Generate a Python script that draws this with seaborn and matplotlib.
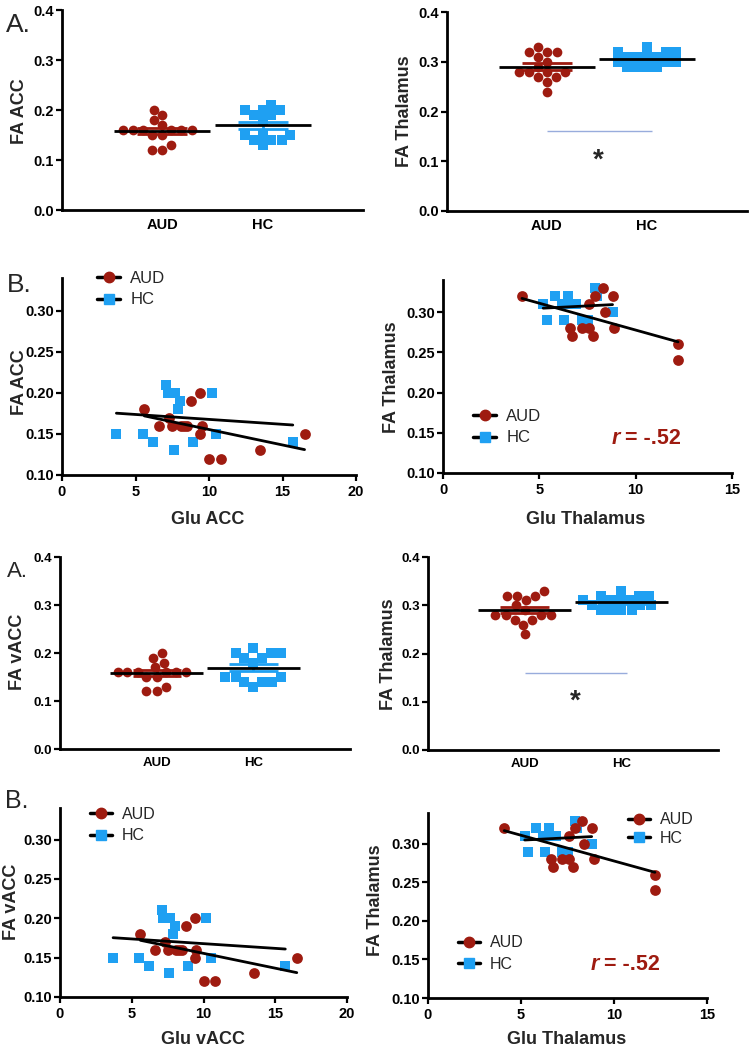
import numpy as np
import pandas as pd
import matplotlib
matplotlib.use("Agg")
import matplotlib.pyplot as plt
from matplotlib.lines import Line2D
from matplotlib.ticker import FormatStrFormatter
import seaborn as sns

sns.set_theme(style="ticks")
plt.rcParams['font.family'] = ['Liberation Sans', 'DejaVu Sans']

RED = "#9e1b10"
BLUE = "#1fa0f2"
groups = ["AUD", "HC"]

# FA by group (dot plots)
fa_acc_aud = [0.18, 0.16, 0.15, 0.16, 0.13, 0.16, 0.20, 0.16, 0.12, 0.16, 0.12, 0.16, 0.17, 0.15, 0.19]
fa_acc_hc = [0.20, 0.15, 0.20, 0.15, 0.19, 0.14, 0.18, 0.13, 0.19, 0.14, 0.20, 0.14, 0.21, 0.15]
fa_thal_aud = [0.30, 0.33, 0.28, 0.32, 0.28, 0.24, 0.27, 0.31, 0.26, 0.27, 0.32, 0.28, 0.32, 0.28, 0.29]
fa_thal_hc = [0.32, 0.32, 0.31, 0.31, 0.30, 0.30, 0.29, 0.29, 0.29, 0.29, 0.30, 0.33, 0.31, 0.31, 0.32]

# Glu vs FA (scatter plots)
glu_acc_aud = [5.6, 6.6, 7.3, 7.5, 8.1, 8.3, 8.5, 8.8, 9.4, 9.4, 9.5, 10.0, 10.8, 13.5, 16.5]
fa_acc_aud_s = [0.18, 0.16, 0.17, 0.16, 0.16, 0.16, 0.16, 0.19, 0.20, 0.15, 0.16, 0.12, 0.12, 0.13, 0.15]
glu_acc_hc = [3.7, 5.5, 6.2, 7.1, 7.2, 7.5, 7.7, 7.9, 8.0, 7.6, 8.9, 10.2, 10.5, 15.7]
fa_acc_hc_s = [0.15, 0.15, 0.14, 0.21, 0.20, 0.20, 0.20, 0.18, 0.19, 0.13, 0.14, 0.20, 0.15, 0.14]

glu_thal_aud = [4.1, 6.6, 6.7, 7.2, 7.6, 7.6, 7.8, 7.9, 8.3, 8.4, 8.8, 8.9, 12.2, 12.2]
fa_thal_aud_s = [0.32, 0.28, 0.27, 0.28, 0.31, 0.28, 0.27, 0.32, 0.33, 0.30, 0.32, 0.28, 0.26, 0.24]
glu_thal_hc = [5.2, 5.4, 5.8, 6.2, 6.3, 6.5, 6.6, 6.9, 7.2, 7.5, 7.9, 8.0, 8.8]
fa_thal_hc_s = [0.31, 0.29, 0.32, 0.31, 0.29, 0.32, 0.31, 0.31, 0.29, 0.29, 0.33, 0.32, 0.30]

r_text = "= -.52"

W, H = 751, 1050
fig = plt.figure(figsize=(W / 100, H / 100), dpi=100)


def fx(x):
    return x / W


def fy(y):
    return 1 - y / H


def px_axes(x0, x1, ytop, ybot):
    return fig.add_axes([fx(x0), fy(ybot), (x1 - x0) / W, (ybot - ytop) / H])


def style(ax, fs, xpad=3):
    sns.despine(ax=ax)
    for s in ['left', 'bottom']:
        ax.spines[s].set_linewidth(2)
        ax.spines[s].set_color('black')
    ax.tick_params(width=1.6, length=4, color='black', labelsize=fs, pad=2, labelcolor='black')
    ax.tick_params(axis='x', pad=xpad)
    for t in ax.get_xticklabels() + ax.get_yticklabels():
        t.set_fontweight('bold')
    ax.set_facecolor('white')
    ax.set_xlabel('')
    ax.set_ylabel('')


def dot_panel(ax, aud, hc, fs):
    df = pd.DataFrame({'group': ['AUD'] * len(aud) + ['HC'] * len(hc), 'FA': aud + hc})
    sns.swarmplot(data=df[df.group == 'AUD'], x='group', y='FA', order=groups, color=RED,
                  marker='o', size=7, linewidth=0, ax=ax)
    sns.swarmplot(data=df[df.group == 'HC'], x='group', y='FA', order=groups, color=BLUE,
                  marker='s', size=7, linewidth=0, ax=ax)
    for i, (vals, c) in enumerate([(aud, RED), (hc, BLUE)]):
        m = np.mean(vals)
        sem = np.std(vals, ddof=1) / np.sqrt(len(vals))
        ax.vlines(i, m - sem, m + sem, color=c, lw=2, zorder=4)
        ax.hlines([m - sem, m + sem], i - 0.25, i + 0.25, color=c, lw=2, zorder=4)
        ax.hlines(m, i - 0.48, i + 0.48, color='black', lw=2, zorder=5)
    ax.set_xlim(-1, 2)
    ax.set_ylim(0, 0.4)
    ax.set_yticks([0, 0.1, 0.2, 0.3, 0.4])
    ax.yaxis.set_major_formatter(FormatStrFormatter('%.1f'))
    style(ax, fs, xpad=6)
    ax.tick_params(axis='x', length=0)


def scatter_panel(ax, xa, ya, xh, yh, xmax, xstep, fs):
    sns.regplot(x=xh, y=yh, scatter=False, ci=None, truncate=True, color='black',
                line_kws={'lw': 2, 'zorder': 4}, ax=ax)
    sns.regplot(x=xa, y=ya, scatter=False, ci=None, truncate=True, color='black',
                line_kws={'lw': 2, 'zorder': 4}, ax=ax)
    sns.scatterplot(x=xh, y=yh, color=BLUE, marker='s', s=52, linewidth=0, ax=ax, zorder=3)
    sns.scatterplot(x=xa, y=ya, color=RED, marker='o', s=60, linewidth=0, ax=ax, zorder=3)
    ax.set_xlim(0, xmax)
    ax.set_ylim(0.10, 0.34)
    ax.set_xticks(np.arange(0, xmax + 1, xstep))
    ax.set_yticks([0.10, 0.15, 0.20, 0.25, 0.30])
    ax.yaxis.set_major_formatter(FormatStrFormatter('%.2f'))
    style(ax, fs)


def add_legend(ax, x, y, fs, spacing=0.4):
    handles = [Line2D([0], [0], color='black', lw=2.5, marker='o', ms=7.5, mfc=RED, mec=RED),
               Line2D([0], [0], color='black', lw=2.5, marker='s', ms=7, mfc=BLUE, mec=BLUE)]
    leg = ax.legend(handles, groups, loc='center left', bbox_to_anchor=(fx(x), fy(y)),
                    bbox_transform=fig.transFigure, frameon=False, fontsize=fs,
                    handlelength=1.4, handletextpad=0.6, labelspacing=spacing,
                    borderpad=0, borderaxespad=0)
    return leg


def ylab(x, y, s):
    fig.text(fx(x), fy(y), s, rotation=90, ha='center', va='center', fontsize=13, fontweight='bold')


def xlab(x, y, s):
    fig.text(fx(x), fy(y), s, ha='center', va='center', fontsize=13, fontweight='bold')


def r_label(x, y):
    fig.text(fx(x), fy(y), "r", ha='left', va='center', fontsize=15.5, fontweight='bold',
             style='italic', color=RED)
    fig.text(fx(x + 13), fy(y), r_text, ha='left', va='center', fontsize=15.5, fontweight='bold',
             color=RED)


# ---- top half ----
ax1 = px_axes(62, 363, 10, 210)
dot_panel(ax1, fa_acc_aud, fa_acc_hc, 10.5)
ylab(19, 111, "FA ACC")
fig.text(fx(6), fy(32), "A.", fontsize=19, va='baseline')

ax2 = px_axes(447, 747, 12, 211)
dot_panel(ax2, fa_thal_aud, fa_thal_hc, 10.5)
ax2.hlines(0.16, 0.0, 1.05, color='#98acdc', lw=1)
fig.text(fx(598), fy(168), "*", ha='center', va='baseline', fontsize=20, fontweight='bold')
ylab(405, 111, "FA Thalamus")

ax3 = px_axes(62, 356, 278, 475)
scatter_panel(ax3, glu_acc_aud, fa_acc_aud_s, glu_acc_hc, fa_acc_hc_s, 20, 5, 10.5)
add_legend(ax3, 97, 289, 12)
ylab(19, 382, "FA ACC")
xlab(208, 520, "Glu ACC")
fig.text(fx(7), fy(292), "B.", fontsize=19, va='baseline')

ax4 = px_axes(443, 732, 280, 473)
scatter_panel(ax4, glu_thal_aud, fa_thal_aud_s, glu_thal_hc, fa_thal_hc_s, 15, 5, 10.5)
add_legend(ax4, 473, 427, 12)
r_label(612, 438)
ylab(392, 377, "FA Thalamus")
xlab(586, 520, "Glu Thalamus")

# ---- bottom half ----
ax5 = px_axes(60, 350, 557, 749)
dot_panel(ax5, fa_acc_aud, fa_acc_hc, 9.5)
ylab(17.5, 652, "FA vACC")
fig.text(fx(7), fy(577), "A.", fontsize=16, va='baseline')

ax6 = px_axes(428, 718, 557, 750)
dot_panel(ax6, fa_thal_aud, fa_thal_hc, 9.5)
ax6.hlines(0.16, 0.0, 1.06, color='#98acdc', lw=1)
fig.text(fx(575), fy(709), "*", ha='center', va='baseline', fontsize=20, fontweight='bold')
ylab(388, 654, "FA Thalamus")

ax7 = px_axes(60, 347, 808, 997)
scatter_panel(ax7, glu_acc_aud, fa_acc_aud_s, glu_acc_hc, fa_acc_hc_s, 20, 5, 10.5)
add_legend(ax7, 90, 825, 11.5)
ylab(12, 902, "FA vACC")
xlab(203, 1039, "Glu vACC")
fig.text(fx(5), fy(808), "B.", fontsize=18, va='baseline')

ax8 = px_axes(428, 707, 813, 998)
scatter_panel(ax8, glu_thal_aud, fa_thal_aud_s, glu_thal_hc, fa_thal_hc_s, 15, 5, 10.5)
leg_top = add_legend(ax8, 628, 829, 11.5, spacing=0.2)
ax8.add_artist(leg_top)
add_legend(ax8, 458, 953.5, 11.5)
r_label(591, 964)
ylab(375, 900, "FA Thalamus")
xlab(567, 1039, "Glu Thalamus")

fig.savefig("out.png", dpi=100, facecolor='white')
